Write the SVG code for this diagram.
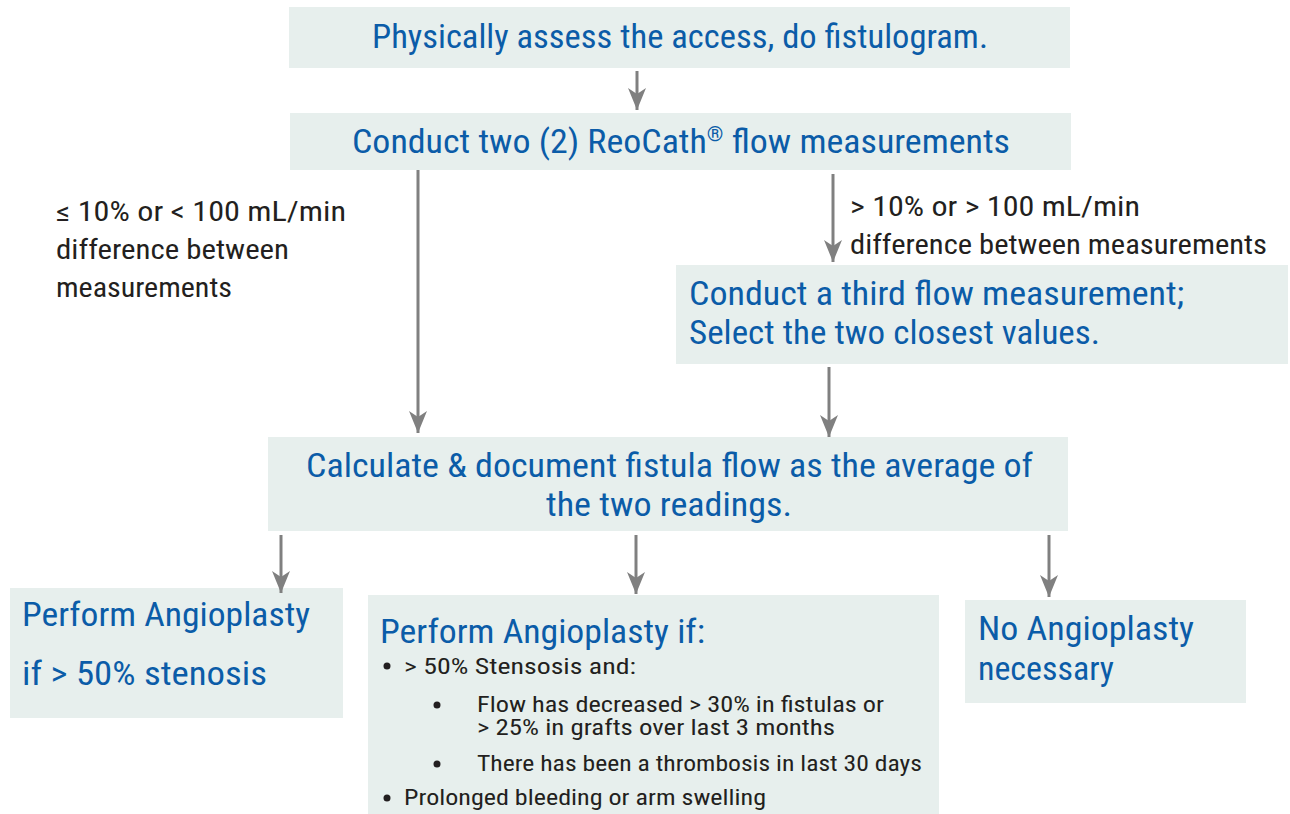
<svg xmlns="http://www.w3.org/2000/svg" width="1290" height="814" viewBox="0 0 1290 814">
<defs>
<marker id="ah" markerUnits="userSpaceOnUse" markerWidth="24" markerHeight="20" refX="22" refY="9" orient="auto" viewBox="0 0 24 20">
<path d="M0,0 L22,9 L0,18 L6,9 z" fill="#808080"/>
</marker>
<style>
.box{fill:#e7efed;}
.t{font-family:"Liberation Sans Narrow","Arial Narrow","Roboto Condensed","Liberation Sans",Arial,sans-serif;fill:#0b5ca8;font-size:34px;}
.l{font-family:"Liberation Sans Narrow","Arial Narrow","Roboto Condensed","Liberation Sans",Arial,sans-serif;fill:#231f20;font-size:27px;}
.s{font-family:"Liberation Sans Narrow","Arial Narrow","Roboto Condensed","Liberation Sans",Arial,sans-serif;fill:#231f20;font-size:22px;}
.c{stroke:#808080;stroke-width:3;fill:none;marker-end:url(#ah);}
.p{stroke:#808080;stroke-width:3;fill:none;}
</style>
</defs>
<rect width="1290" height="814" fill="#ffffff"/>

<g id="n1">
<rect class="box" x="289" y="7" width="781" height="61"/>
<text class="t" x="372" y="48" textLength="616" lengthAdjust="spacingAndGlyphs">Physically assess the access, do fistulogram.</text>
</g>

<g id="n2">
<rect class="box" x="290" y="113" width="781" height="57"/>
<text class="t" x="352" y="153" textLength="658" lengthAdjust="spacingAndGlyphs">Conduct two (2) ReoCath<tspan font-size="20" dy="-12">®</tspan><tspan dy="12"> flow measurements</tspan></text>
</g>

<g id="n3">
<rect class="box" x="676" y="265" width="612" height="99"/>
<text class="t" x="689" y="305" textLength="495" lengthAdjust="spacingAndGlyphs">Conduct a third flow measurement;</text>
<text class="t" x="689" y="344" textLength="411" lengthAdjust="spacingAndGlyphs">Select the two closest values.</text>
</g>

<g id="n4">
<rect class="box" x="268" y="437" width="800" height="94"/>
<text class="t" x="306" y="477" textLength="727" lengthAdjust="spacingAndGlyphs">Calculate &amp; document fistula flow as the average of</text>
<text class="t" x="546" y="516" textLength="246" lengthAdjust="spacingAndGlyphs">the two readings.</text>
</g>

<g id="n5">
<rect class="box" x="10" y="588" width="333" height="130"/>
<text class="t" x="22" y="626" textLength="288" lengthAdjust="spacingAndGlyphs">Perform Angioplasty</text>
<text class="t" x="22" y="685" textLength="245" lengthAdjust="spacingAndGlyphs">if &gt; 50% stenosis</text>
</g>

<g id="n6">
<rect class="box" x="368" y="595" width="571" height="219"/>
<text class="t" x="380" y="643" font-size="33" textLength="325" lengthAdjust="spacingAndGlyphs">Perform Angioplasty if:</text>
<circle cx="387" cy="666" r="3.5" fill="#231f20"/>
<text class="s" x="404" y="674" textLength="232" lengthAdjust="spacingAndGlyphs">&gt; 50% Stensosis and:</text>
<circle cx="437" cy="705" r="3.5" fill="#231f20"/>
<text class="s" x="477" y="712" textLength="407" lengthAdjust="spacingAndGlyphs">Flow has decreased &gt; 30% in fistulas or</text>
<text class="s" x="477" y="735" textLength="358" lengthAdjust="spacingAndGlyphs">&gt; 25% in grafts over last 3 months</text>
<circle cx="437" cy="764" r="3.5" fill="#231f20"/>
<text class="s" x="477" y="771" textLength="445" lengthAdjust="spacingAndGlyphs">There has been a thrombosis in last 30 days</text>
<circle cx="387" cy="798" r="3.5" fill="#231f20"/>
<text class="s" x="404" y="805" textLength="362" lengthAdjust="spacingAndGlyphs">Prolonged bleeding or arm swelling</text>
</g>

<g id="n7">
<rect class="box" x="965" y="600" width="281" height="103"/>
<text class="t" x="978" y="640" textLength="216" lengthAdjust="spacingAndGlyphs">No Angioplasty</text>
<text class="t" x="978" y="680" textLength="136" lengthAdjust="spacingAndGlyphs">necessary</text>
</g>

<g id="labels">
<text class="l" x="56" y="221" textLength="290" lengthAdjust="spacingAndGlyphs">≤ 10% or &lt; 100 mL/min</text>
<text class="l" x="56" y="259" textLength="233" lengthAdjust="spacingAndGlyphs">difference between</text>
<text class="l" x="56" y="297" textLength="176" lengthAdjust="spacingAndGlyphs">measurements</text>
<text class="l" x="850" y="216" textLength="290" lengthAdjust="spacingAndGlyphs">&gt; 10% or &gt; 100 mL/min</text>
<text class="l" x="850" y="254" textLength="417" lengthAdjust="spacingAndGlyphs">difference between measurements</text>
</g>

<g id="connectors">
<line class="c" x1="637" y1="71" x2="637" y2="110"/>
<line class="c" x1="418" y1="170" x2="418" y2="433"/>
<line class="c" x1="833" y1="174" x2="833" y2="262"/>
<line class="c" x1="829" y1="367" x2="829" y2="437"/>
<line class="c" x1="281" y1="535" x2="281" y2="593"/>
<line class="c" x1="636" y1="535" x2="636" y2="594"/>
<line class="c" x1="1049" y1="535" x2="1049" y2="597"/>
</g>
</svg>
